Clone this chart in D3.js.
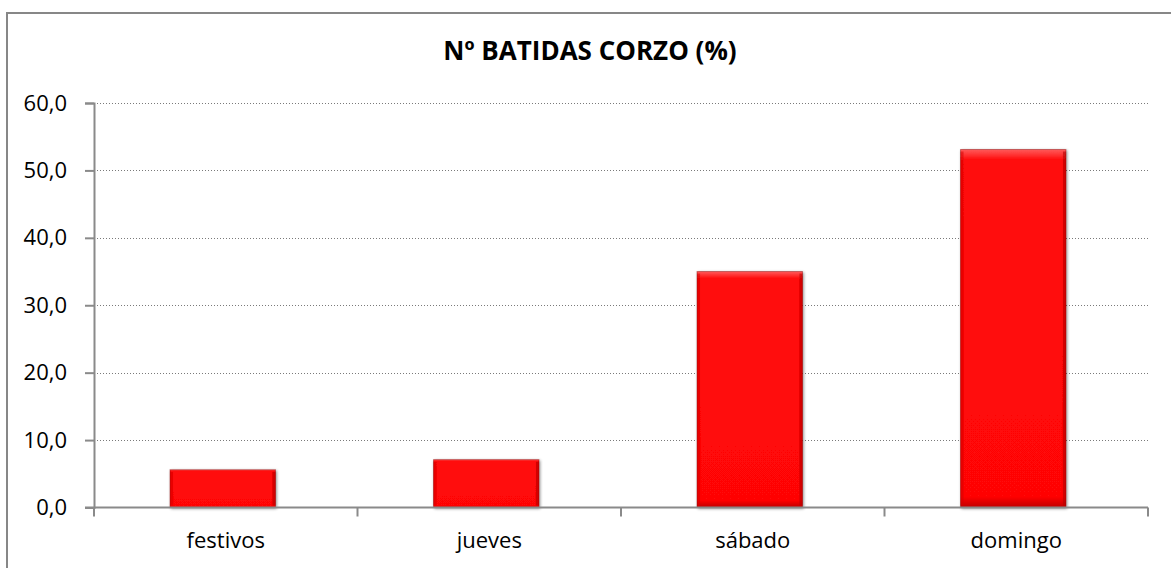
<!DOCTYPE html>
<html>
<head>
<meta charset="utf-8">
<script src="https://cdn.jsdelivr.net/npm/d3@7"></script>
<style>
	body { margin: 0; background: #fff; }
	svg { display: block; }
</style>
</head>
<body>
<svg id="chart" width="1171" height="568"></svg>
<script>
'use strict'

const categories = ['festivos', 'jueves', 'sábado', 'domingo']
const values = [5.6, 7.1, 35.0, 53.1]
const yTicks = [0, 10, 20, 30, 40, 50, 60]
const title = 'Nº BATIDAS CORZO (%)'

const svg = d3.select('#chart')
const font = '"Open Sans", "Noto Sans", sans-serif'

const plot = {left: 94, right: 1148, top: 103, bottom: 507.5}

// outer frame (runs off right and bottom edges)
svg.append('rect')
	.attr('x', 7)
	.attr('y', 13)
	.attr('width', 1200)
	.attr('height', 600)
	.attr('fill', 'none')
	.attr('stroke', '#878787')
	.attr('stroke-width', 2)

svg.append('text')
	.attr('x', 590)
	.attr('y', 60)
	.attr('text-anchor', 'middle')
	.attr('font-family', font)
	.attr('font-weight', 'bold')
	.attr('font-size', 26)
	.attr('fill', '#000')
	.text(title)

const x = d3.scaleBand()
	.domain(categories)
	.range([plot.left, plot.right])
	.paddingInner(0.6)
	.paddingOuter(0.3)

const xOuter = d3.scaleBand()
	.domain(categories)
	.range([plot.left, plot.right])

const y = d3.scaleLinear()
	.domain([0, 60])
	.range([plot.bottom, plot.top])

// gridlines
svg.append('g')
	.selectAll('line')
	.data(yTicks.filter((t) => t > 0))
	.enter()
	.append('line')
	.attr('x1', plot.left)
	.attr('x2', plot.right)
	.attr('y1', (d) => Math.round(y(d)) + 0.5)
	.attr('y2', (d) => Math.round(y(d)) + 0.5)
	.attr('stroke', '#7a7a7a')
	.attr('stroke-width', 1)
	.attr('stroke-dasharray', '1,2')

// defs for bar bevel
const defs = svg.append('defs')
const vGrad = defs.append('linearGradient')
	.attr('id', 'vgrad')
	.attr('x1', 0).attr('y1', 0).attr('x2', 0).attr('y2', 1)
vGrad.append('stop').attr('offset', '0%').attr('stop-color', '#ff5a5a')
vGrad.append('stop').attr('offset', '3%').attr('stop-color', '#ff0a0a')
vGrad.append('stop').attr('offset', '97%').attr('stop-color', '#ff0606')
vGrad.append('stop').attr('offset', '100%').attr('stop-color', '#c00000')

const shadow = defs.append('filter')
	.attr('id', 'shadow')
	.attr('x', '-10%').attr('y', '-10%').attr('width', '130%').attr('height', '130%')
shadow.append('feGaussianBlur').attr('in', 'SourceAlpha').attr('stdDeviation', 1.5).attr('result', 'b')
shadow.append('feOffset').attr('in', 'b').attr('dx', 1).attr('dy', 1).attr('result', 'o')
shadow.append('feComponentTransfer').attr('in', 'o').attr('result', 's')
	.append('feFuncA').attr('type', 'linear').attr('slope', 0.45)
const merge = shadow.append('feMerge')
merge.append('feMergeNode').attr('in', 's')
merge.append('feMergeNode').attr('in', 'SourceGraphic')

const barX = (d) => x(d) - 3

const bars = svg.append('g')
	.selectAll('g')
	.data(categories)
	.enter()
	.append('g')
	.attr('filter', 'url(#shadow)')

bars.append('rect')
	.attr('x', barX)
	.attr('y', (d, i) => y(values[i]))
	.attr('width', x.bandwidth())
	.attr('height', (d, i) => y(0) - y(values[i]))
	.attr('fill', 'url(#vgrad)')

// side shading of the bevel
bars.append('rect')
	.attr('x', barX)
	.attr('y', (d, i) => y(values[i]) + 2)
	.attr('width', 3)
	.attr('height', (d, i) => Math.max(0, y(0) - y(values[i]) - 4))
	.attr('fill', '#d40000')
	.attr('opacity', 0.5)
bars.append('rect')
	.attr('x', (d) => barX(d) + x.bandwidth() - 3)
	.attr('y', (d, i) => y(values[i]) + 2)
	.attr('width', 3)
	.attr('height', (d, i) => Math.max(0, y(0) - y(values[i]) - 4))
	.attr('fill', '#b50000')
	.attr('opacity', 0.6)
bars.append('rect')
	.attr('x', barX)
	.attr('y', (d, i) => y(values[i]))
	.attr('width', x.bandwidth())
	.attr('height', (d, i) => y(0) - y(values[i]))
	.attr('fill', 'none')
	.attr('stroke', '#8a0000')
	.attr('stroke-opacity', 0.45)
	.attr('stroke-width', 1)

// y axis
const yAxis = svg.append('g')
	.attr('transform', `translate(${plot.left},0)`)
	.call(d3.axisLeft(y)
		.tickValues(yTicks)
		.tickSize(9)
		.tickPadding(18)
		.tickFormat((d) => d3.format('.1f')(d).replace('.', ',')))
yAxis.select('.domain').attr('stroke', '#8a8a8a').attr('stroke-width', 2)
yAxis.selectAll('.tick line').attr('stroke', '#8a8a8a').attr('stroke-width', 2)
yAxis.selectAll('.tick text')
	.attr('font-family', font)
	.attr('font-size', 22)
	.attr('fill', '#000')

// x axis
const xAxis = svg.append('g')
	.attr('transform', `translate(0,${plot.bottom})`)
	.call(d3.axisBottom(xOuter).tickSize(0).tickPadding(25))
xAxis.select('.domain').remove()
xAxis.append('line')
	.attr('x1', plot.left - 9)
	.attr('x2', plot.right)
	.attr('stroke', '#8a8a8a')
	.attr('stroke-width', 2)
xAxis.selectAll('.catTick')
	.data(categories.map((c) => xOuter(c) + xOuter.bandwidth()))
	.enter()
	.append('line')
	.attr('class', 'catTick')
	.attr('x1', (d) => d)
	.attr('x2', (d) => d)
	.attr('y1', 0)
	.attr('y2', 9)
	.attr('stroke', '#8a8a8a')
	.attr('stroke-width', 2)
xAxis.append('line')
	.attr('x1', plot.left)
	.attr('x2', plot.left)
	.attr('y1', 0)
	.attr('y2', 9)
	.attr('stroke', '#8a8a8a')
	.attr('stroke-width', 2)
xAxis.selectAll('.tick text')
	.attr('font-family', font)
	.attr('font-size', 22)
	.attr('fill', '#000')
</script>
</body>
</html>
